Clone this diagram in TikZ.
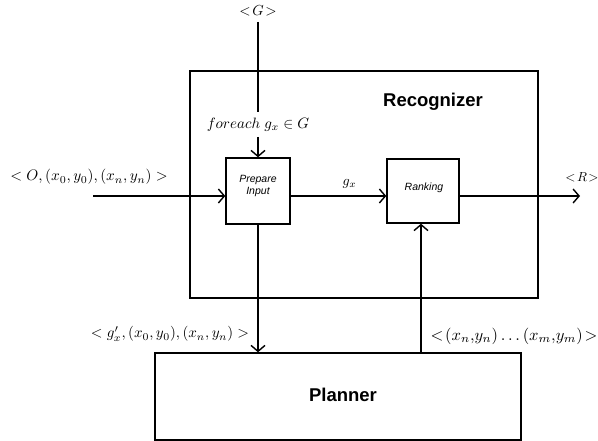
\documentclass[tikz,border=0pt]{standalone}
\usepackage{graphicx}
\usepackage{fontspec}
\newfontfamily\arial{Liberation Sans}
\usetikzlibrary{arrows.meta}
\newcommand{\mylbl}[2]{\scalebox{#1}{$#2$}}
\begin{document}
\begin{tikzpicture}[x=1pt,y=-1pt,
  box/.style={draw,line width=1.4pt},
  conn/.style={line width=1.4pt,-{Straight Barb[length=6pt,width=14pt,line width=1.4pt]}},
  plain/.style={line width=1.4pt},
  lbl/.style={inner sep=0pt},
  small/.style={font=\arial\itshape\fontsize{10.5}{12}\selectfont,align=center,inner sep=0pt},
  big/.style={font=\arial\bfseries\fontsize{18.5}{22}\selectfont,inner sep=0pt}]
\useasboundingbox (0,0) rectangle (598,441);
\draw[box] (190,71) rectangle (538,298);
\node[big] (rec) at (433,102) {Recognizer};
\node[box,minimum width=64pt,minimum height=66pt,inner sep=0pt] (prep) at (258,191) {};
\node[small] (preptxt) at (258,186) {Prepare\\Input};
\node[box,minimum width=72pt,minimum height=64pt,inner sep=0pt] (rank) at (423,191) {};
\node[small] (ranktxt) at (424,188) {Ranking};
\node[box,minimum width=366pt,minimum height=87pt,inner sep=0pt] (plan) at (338,396.5) {};
\node[big] (plantxt) at (343,395) {Planner};

\node[lbl] (G) at (258,11) {\mylbl{1.45}{<\!G\!>}};
\coordinate (gtop) at (258,22);
\coordinate (gbot) at (258,112);
\draw[plain] (gtop) -- (gbot);
\node[lbl] (fe) at (258,125) {\mylbl{1.5}{foreach\; g_x \in G}};
\coordinate (fes) at (258,137);
\draw[conn] (fes) -- (prep.north);

\node[lbl] (O) at (89,177) {\mylbl{1.52}{<O,(x_0,y_0),(x_n,y_n)>}};
\coordinate (in) at (93,196);
\draw[conn] (in) -- (prep.west |- in);
\draw[conn] (prep.east |- in) -- node[above=7pt,inner sep=0pt,xshift=11pt] (gx) {\mylbl{1.4}{g_x}} (rank.west |- in);
\coordinate (out) at (580,196);
\draw[conn] (rank.east |- out) -- (out);
\node[lbl] (R) at (582,177) {\mylbl{1.3}{<\!R\!>}};

\draw[conn] (prep.south) -- (prep.south |- plan.north);
\node[lbl] (gp) at (170,334) {\mylbl{1.5}{<g'_x,(x_0,y_0),(x_n,y_n)>}};
\coordinate (up) at (421,353);
\draw[conn] (up) -- (up |- rank.south);
\node[lbl] (seq) at (514,336) {\mylbl{1.65}{<\!(x_n{,}y_n)\ldots(x_m{,}y_m)\!>}};
\end{tikzpicture}
\end{document}
